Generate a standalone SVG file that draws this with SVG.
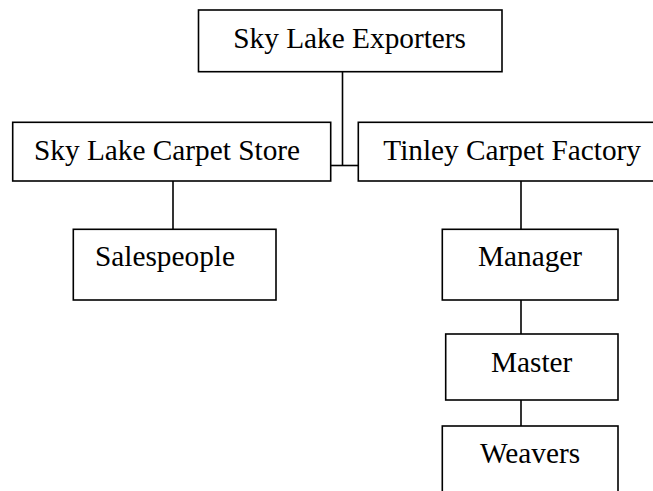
<svg xmlns="http://www.w3.org/2000/svg" width="653" height="491" viewBox="0 0 653 491">
<style>
.box{fill:#fff;stroke:#000;stroke-width:1.6}
.lbl{font-family:"Liberation Serif","Times New Roman",serif;font-size:29.3px;fill:#000}
.conn line{stroke:#000;stroke-width:1.6}
</style>
<rect width="653" height="491" fill="#fff"/>
<g id="connectors" class="conn">
<line x1="342.5" y1="72" x2="342.5" y2="165.5"/>
<line x1="331" y1="165.5" x2="358.5" y2="165.5"/>
<line x1="173" y1="181" x2="173" y2="229.5"/>
<line x1="521" y1="181" x2="521" y2="229.5"/>
<line x1="521" y1="300" x2="521" y2="334"/>
<line x1="521" y1="400" x2="521" y2="426"/>
</g>
<g id="sky-lake-exporters">
<rect class="box" x="198.5" y="10" width="303.5" height="61.7"/>
<text class="lbl" x="233.3" y="48.3">Sky Lake Exporters</text>
</g>
<g id="sky-lake-carpet-store">
<rect class="box" x="12.7" y="122.3" width="318" height="58.7"/>
<text class="lbl" x="34" y="160">Sky Lake Carpet Store</text>
</g>
<g id="tinley-carpet-factory">
<rect class="box" x="358.3" y="122.3" width="297" height="58.7"/>
<text class="lbl" x="383.3" y="160">Tinley Carpet Factory</text>
</g>
<g id="salespeople">
<rect class="box" x="73.3" y="229.3" width="202.7" height="70.7"/>
<text class="lbl" x="95" y="266">Salespeople</text>
</g>
<g id="manager">
<rect class="box" x="442.3" y="229.3" width="175.7" height="70.7"/>
<text class="lbl" x="478" y="266">Manager</text>
</g>
<g id="master">
<rect class="box" x="445.7" y="334" width="172.3" height="66"/>
<text class="lbl" x="491" y="371.7">Master</text>
</g>
<g id="weavers">
<rect class="box" x="442.3" y="426" width="175.7" height="70"/>
<text class="lbl" x="480" y="463">Weavers</text>
</g>
</svg>
